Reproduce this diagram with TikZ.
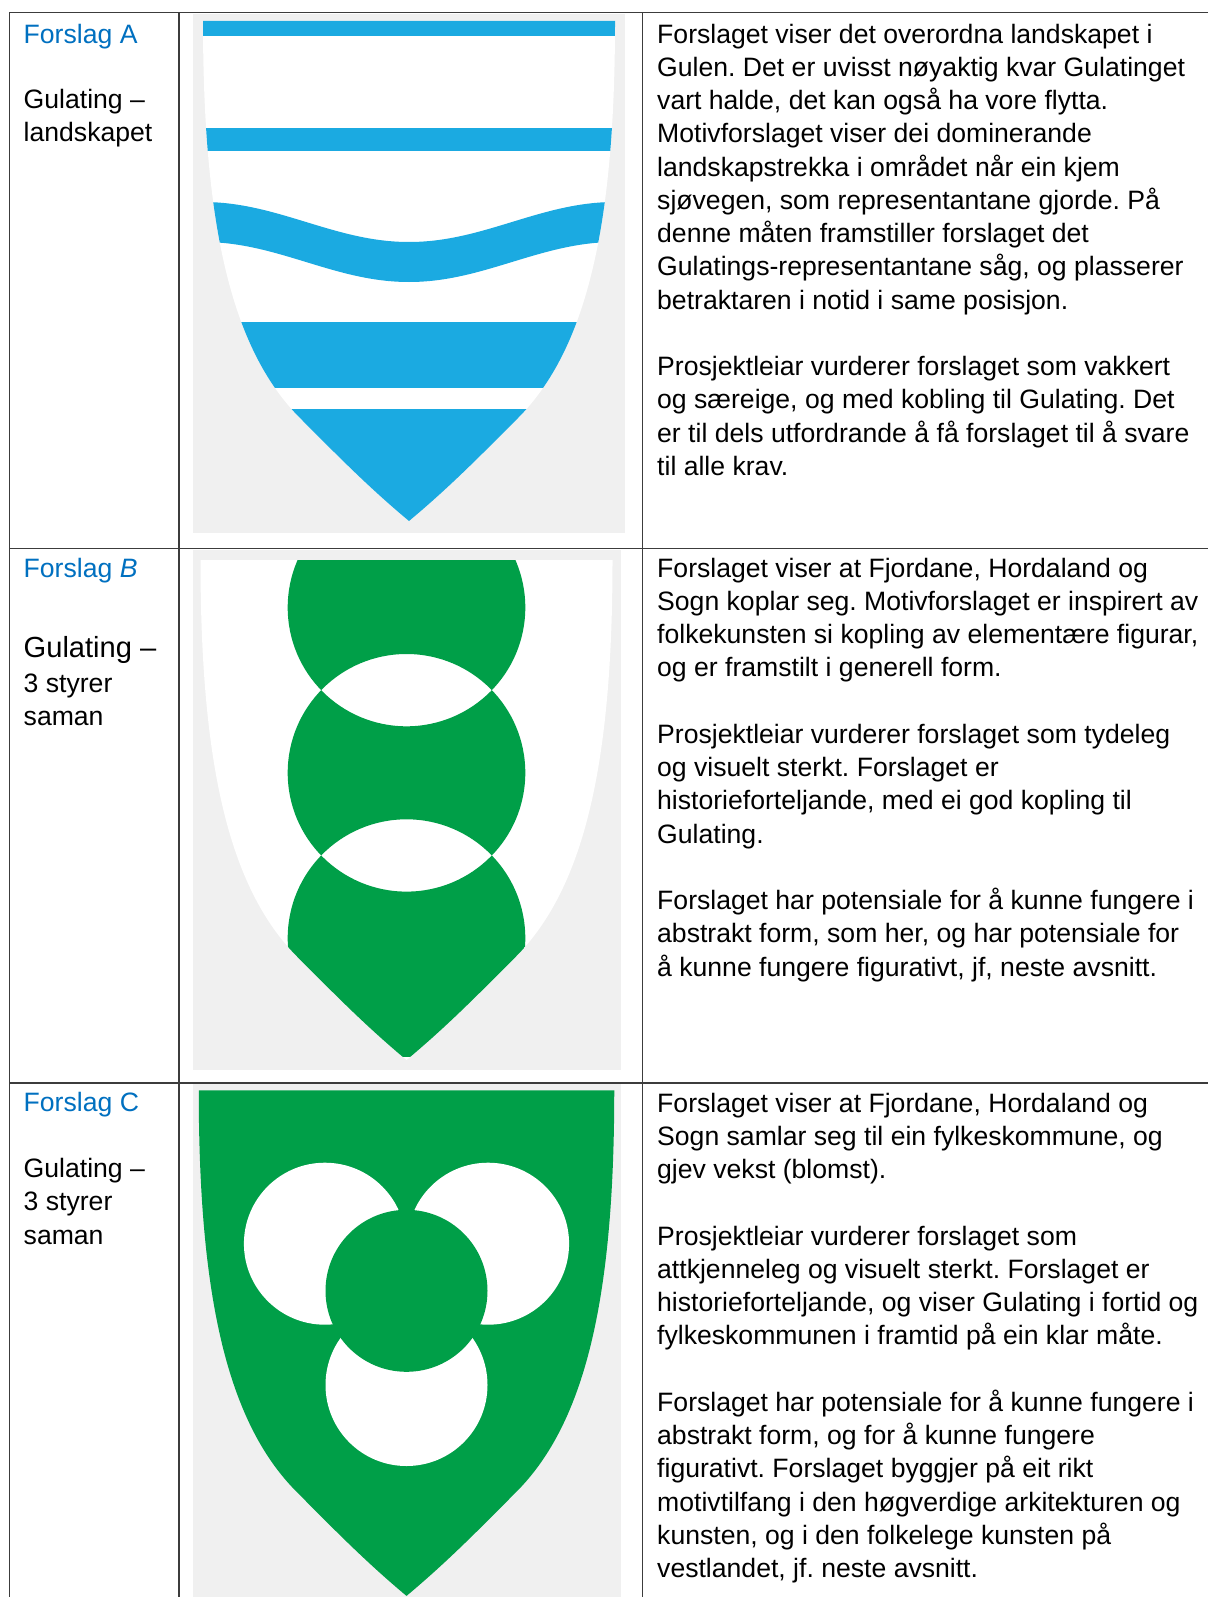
\documentclass[tikz,border=0pt]{standalone}
\usepackage{fontspec}
\setmainfont{Liberation Sans}
\frenchspacing
\definecolor{labelblue}{HTML}{0070C0}
\definecolor{seablue}{HTML}{1BAAE1}
\definecolor{fieldgreen}{HTML}{009F48}
\definecolor{boxgrey}{HTML}{F0F0F0}
\definecolor{rulegrey}{HTML}{3C3C3C}
\newcommand{\topstrut}{\rule{0pt}{24pt}}
\newcommand{\shieldpath}{(-206,0) -- (206,0) .. controls (206,200) and (179,327) .. (109,397) .. controls (74,432) and (42,465) .. (0,500) .. controls (-42,465) and (-74,432) .. (-109,397) .. controls (-179,327) and (-206,200) .. (-206,0) -- cycle}
\tikzset{rule/.style={draw=rulegrey, line width=1.4pt},
    greybox/.style={fill=boxgrey},
    celltext/.style={anchor=north west, inner sep=0pt, align=left, font=\fontsize{26.6}{33.25}\selectfont},
    celllabel/.style={celltext, text=labelblue}}

\begin{document}
\begin{tikzpicture}[x=1pt, y=-1pt]
    \fill[white] (0,0) rectangle (1208,1597);
    \useasboundingbox (0,0) rectangle (1208,1597);

    \coordinate (shieldA) at (409,21);
    \coordinate (shieldB) at (406.5,560);
    \coordinate (shieldC) at (406.5,1090.4);
    \coordinate (flowerC) at (406.5,1290.8);

    \fill[greybox] (193.3,14) rectangle (625,532.7);
    \fill[greybox] (193,550) rectangle (621,1070);
    \fill[greybox] (193,1084) rectangle (621,1597);

    \begin{scope}[shift={(shieldA)}]
        \fill[white] \shieldpath;
        \clip \shieldpath;
        \fill[seablue] (-220,-5) rectangle (220,15.2);
        \fill[seablue] (-220,107.1) rectangle (220,130.5);
        \fill[seablue] (-206,181) cos (-103,201) sin (0,221) cos (103,201) sin (206,181)
            -- (206,221) cos (103,241) sin (0,261) cos (-103,241) sin (-206,221) -- cycle;
        \fill[seablue] (-220,301) rectangle (220,367.4);
        \fill[seablue] (-220,388) rectangle (220,520);
    \end{scope}

    \begin{scope}[shift={(shieldB)}]
        \fill[white] \shieldpath;
        \clip \shieldpath;
        \fill[fieldgreen, even odd rule] (0,47.5) circle[radius=118.8]
            (0,212.8) circle[radius=118.8] (0,378.1) circle[radius=118.8];
    \end{scope}

    \begin{scope}[shift={(shieldC)}, xscale=1.0085, yscale=1.011]
        \fill[fieldgreen] \shieldpath;
    \end{scope}
    \begin{scope}[shift={(flowerC)}]
        \foreach \a in {90,210,330}
            \fill[white] (\a:94.2) circle[radius=81];
        \fill[fieldgreen] (0,0) circle[radius=81];
    \end{scope}

    \draw[rule] (1208,12.7) -- (9.3,12.7) -- (9.3,1597);
    \draw[rule] (9.3,548.3) -- (1208,548.3);
    \draw[rule] (9.3,1082.8) -- (1208,1082.8);
    \foreach \x in {179,642.7}
        \draw[rule] (\x,12.7) -- (\x,1597);

    \node[celllabel] (labelA) at (23.5,19) {\topstrut Forslag A};
    \node[celltext] (nameA) at (23.5,84) {\topstrut Gulating –\\landskapet};
    \node[celltext] (textA) at (657,19) {\topstrut Forslaget viser det overordna landskapet i\\
        Gulen. Det er uvisst nøyaktig kvar Gulatinget\\
        vart halde, det kan også ha vore flytta.\\
        Motivforslaget viser dei dominerande\\
        landskapstrekka i området når ein kjem\\
        sjøvegen, som representantane gjorde. På\\
        denne måten framstiller forslaget det\\
        Gulatings-representantane såg, og plasserer\\
        betraktaren i notid i same posisjon.\\[33.25pt]
        Prosjektleiar vurderer forslaget som vakkert\\
        og særeige, og med kobling til Gulating. Det\\
        er til dels utfordrande å få forslaget til å svare\\
        til alle krav.};

    \node[celllabel] (labelB) at (23.5,553) {\topstrut Forslag \textit{B}};
    \node[celltext, font=\fontsize{29.1}{36}\selectfont] (nameB) at (23.5,633) {\topstrut Gulating –};
    \node[celltext] (styrerB) at (23.5,668) {\topstrut 3 styrer\\saman};
    \node[celltext] (textB) at (657,553) {\topstrut Forslaget viser at Fjordane, Hordaland og\\
        Sogn koplar seg. Motivforslaget er inspirert av\\
        folkekunsten si kopling av elementære figurar,\\
        og er framstilt i generell form.\\[33.25pt]
        Prosjektleiar vurderer forslaget som tydeleg\\
        og visuelt sterkt. Forslaget er\\
        historieforteljande, med ei god kopling til\\
        Gulating.\\[33.25pt]
        Forslaget har potensiale for å kunne fungere i\\
        abstrakt form, som her, og har potensiale for\\
        å kunne fungere figurativt, jf, neste avsnitt.};

    \node[celllabel] (labelC) at (23.5,1087.5) {\topstrut Forslag C};
    \node[celltext] (nameC) at (23.5,1153.5) {\topstrut Gulating –\\3 styrer\\saman};
    \node[celltext] (textC) at (657,1088) {\topstrut Forslaget viser at Fjordane, Hordaland og\\
        Sogn samlar seg til ein fylkeskommune, og\\
        gjev vekst (blomst).\\[33.25pt]
        Prosjektleiar vurderer forslaget som\\
        attkjenneleg og visuelt sterkt. Forslaget er\\
        historieforteljande, og viser Gulating i fortid og\\
        fylkeskommunen i framtid på ein klar måte.\\[33.25pt]
        Forslaget har potensiale for å kunne fungere i\\
        abstrakt form, og for å kunne fungere\\
        figurativt. Forslaget byggjer på eit rikt\\
        motivtilfang i den høgverdige arkitekturen og\\
        kunsten, og i den folkelege kunsten på\\
        vestlandet, jf. neste avsnitt.};
\end{tikzpicture}
\end{document}
